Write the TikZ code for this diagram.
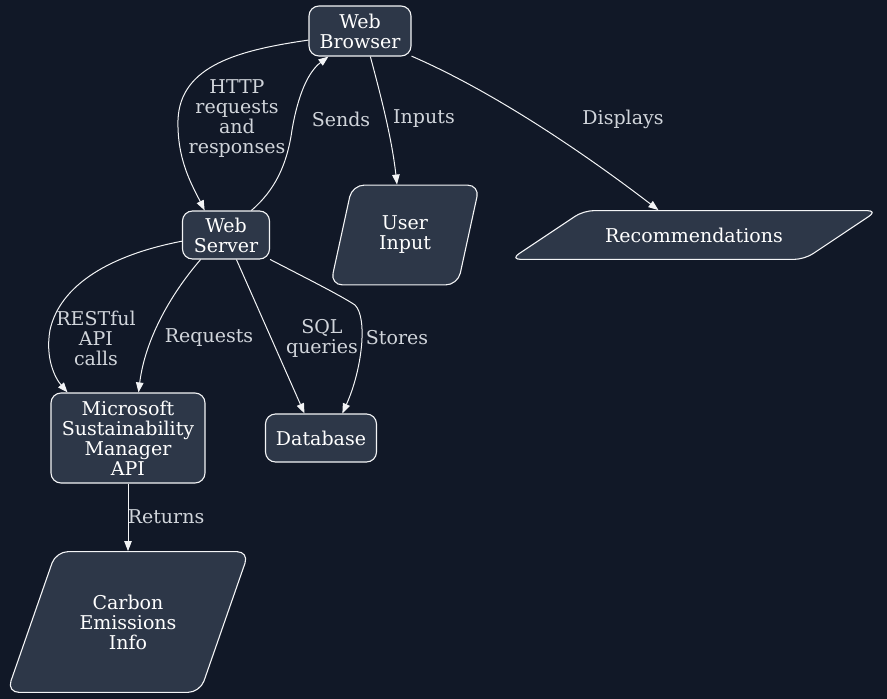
\documentclass[tikz,border=0pt]{standalone}
\usepackage{fontspec}
\setmainfont{DejaVu Serif}
\usepackage{tikz}
\usetikzlibrary{shapes.geometric,arrows.meta}

\definecolor{bgcol}{HTML}{111827}
\definecolor{boxcol}{HTML}{2D3748}
\definecolor{edgecol}{HTML}{F3F4F6}
\definecolor{labelcol}{HTML}{D1D5DB}

\begin{document}
\begin{tikzpicture}[x=1pt, y=-1pt, line width=1pt,
    main node/.style={rectangle, rounded corners=10pt, draw=edgecol, fill=boxcol, line width=1.1pt,
                      text=white, align=center, font=\fontsize{19}{20}\selectfont},
    data node/.style={main node, trapezium, trapezium stretches body, rounded corners=12pt, inner xsep=4pt},
    link/.style={draw=edgecol, -{Triangle[length=10pt,width=7.5pt]}},
    label node/.style={text=labelcol, align=center, font=\fontsize{19}{20}\selectfont}]

   \path[use as bounding box, fill=bgcol] (0,0) rectangle (887,699);

   \node[main node, minimum width=102pt, minimum height=50pt] (1) at (360,31) {Web\\Browser};
   \node[main node, minimum width=87pt, minimum height=48pt] (2) at (226,235) {Web\\Server};
   \node[data node, trapezium left angle=77.7, trapezium right angle=102.3,
         minimum width=149pt, inner ysep=31pt] (3) at (405,235) {User\\Input};
   \node[data node, trapezium left angle=33.7, trapezium right angle=146.3,
         minimum width=367pt, inner ysep=17pt, rounded corners=10pt] (4) at (694,235) {Recommendations};
   \node[main node, minimum width=154pt, minimum height=90pt] (5) at (128,438) {Microsoft\\Sustainability\\Manager\\API};
   \node[main node, minimum width=111pt, minimum height=48pt] (6) at (321,438) {Database};
   \node[data node, trapezium left angle=70.8, trapezium right angle=109.2,
         minimum width=242pt, inner ysep=43pt] (7) at (128,622) {Carbon\\Emissions\\Info};

   % browser <-> server
   \draw[link] (1.190) .. controls (240,50) and (180,65) .. (178,120)
               .. controls (177,160) and (192,185) .. (2.131);
   \draw[link] (2.44) .. controls (275,190) and (287,165) .. (292,130)
               .. controls (298,95) and (308,72) .. (1.-141);
   \draw[link] (1.-68) .. controls (382,100) and (392,140) .. (3.99);
   \draw[link] (1.-26) .. controls (490,90) and (580,150) .. (4.145);

   % server -> api, database
   \draw[link] (2.188) .. controls (110,255) and (60,285) .. (50,330)
               .. controls (45,358) and (55,378) .. (5.143);
   \draw[link] (2.224) .. controls (170,295) and (145,340) .. (5.77);
   \draw[link] (2.-67) -- (6.124);
   \draw[link] (2.-29) .. controls (300,275) and (340,295) .. (355,305)
               .. controls (368,318) and (362,370) .. (6.49);
   \draw[link] (5) -- (7);

   \node[label node] (http) at (237,119) {HTTP\\requests\\and\\responses};
   \node[label node] (sends) at (341,119) {Sends};
   \node[label node] (inputs) at (424,119) {Inputs};
   \node[label node] (displays) at (623,119) {Displays};
   \node[label node] (rest) at (96,338) {RESTful\\API\\calls};
   \node[label node] (requests) at (209,338) {Requests};
   \node[label node] (sql) at (322,338) {SQL\\queries};
   \node[label node] (stores) at (397,338) {Stores};
   \node[label node] (returns) at (166,517) {Returns};

\end{tikzpicture}
\end{document}
